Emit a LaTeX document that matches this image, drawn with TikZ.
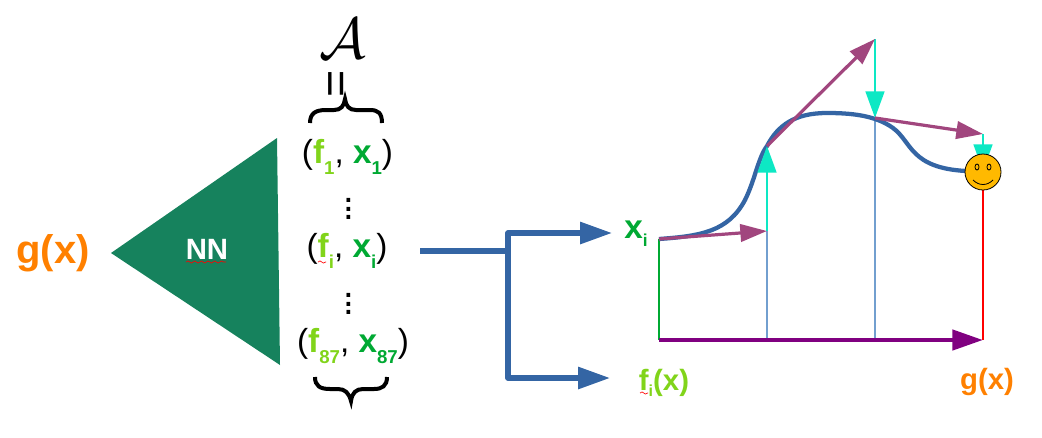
\documentclass[tikz,border=0pt]{standalone}
\usepackage{fontspec}
\setmainfont{Liberation Sans}
\usetikzlibrary{arrows.meta,decorations.pathmorphing}

\definecolor{nnteal}{HTML}{16825D}
\definecolor{gorange}{HTML}{FF8000}
\definecolor{flime}{HTML}{81D41A}
\definecolor{xgreen}{HTML}{00A933}
\definecolor{lineblue}{HTML}{3465A4}
\definecolor{gridblue}{HTML}{729FCF}
\definecolor{stepcyan}{HTML}{0DE8C4}
\definecolor{stepplum}{HTML}{A1467E}
\definecolor{sumpurple}{HTML}{800080}
\definecolor{smileyellow}{HTML}{FFB900}

\newcommand{\lowsub}[1]{\raisebox{-8pt}{\fontsize{14}{14}\selectfont\bfseries #1}}
\newcommand{\pairlabel}[2]{(\textcolor{flime}{\bfseries f\lowsub{#1}}, \textcolor{xgreen}{\bfseries x\lowsub{#2}})}

\tikzset{
	pairtxt/.style={inner sep=0.75pt,font=\fontsize{25}{30}\selectfont},
	dotstxt/.style={inner sep=0pt,scale=1.6,font=\fontsize{18}{20}\selectfont},
	plotline/.style={line width=1.1pt},
	branch/.style={draw=lineblue,line width=3.8pt,-{Triangle[length=24pt,width=16pt]}},
	cyanstep/.style={draw=stepcyan,line width=2.1pt,-{Triangle[length=20pt,width=14pt]}},
	plumstep/.style={draw=stepplum,line width=2.4pt,-{Triangle[length=20pt,width=13pt]}},
	bracestroke/.style={line width=3pt},
	squiggle/.style={draw=red,line width=0.5pt,decorate,decoration={snake,amplitude=0.8pt,segment length=5pt}},
}

\begin{document}
\begin{tikzpicture}[x=0.75pt,y=0.75pt,yscale=-1,xscale=1]
	\useasboundingbox (0,0) rectangle (1042,437);

	%Coordinates
	\coordinate (nntip) at (111,253);
	\coordinate (nntop) at (277,138);
	\coordinate (nnbot) at (280,365);
	\coordinate (stem) at (420,251);
	\coordinate (fork) at (508,251);
	\coordinate (forktop) at (508,233);
	\coordinate (forkbot) at (508,378);
	\coordinate (xarrow) at (612,233);
	\coordinate (farrow) at (610,378);
	\coordinate (start) at (659,239);
	\coordinate (origin) at (659,340);
	\coordinate (stepa) at (767,231);
	\coordinate (basea) at (767,340);
	\coordinate (curvea) at (767,146);
	\coordinate (stepb) at (875,39);
	\coordinate (baseb) at (875,340);
	\coordinate (curveb) at (875,118);
	\coordinate (stepc) at (983,134);
	\coordinate (basec) at (983,340);
	\coordinate (smiletip) at (983,171);
	\coordinate (smileleft) at (966,171);

	%Shape: Triangle
	\fill [nnteal] (nntip) -- (nntop) -- (nnbot) -- cycle;

	%Straight Lines
	\draw [xgreen,plotline] (start) -- (origin);
	\draw [gridblue,plotline] (stepa) -- (basea);
	\draw [gridblue,plotline] (curveb) -- (baseb);
	\draw [red,plotline] (stepc) -- (basec);
	\draw [sumpurple,line width=3.4pt,-{Triangle[length=23pt,width=15pt]}] (origin) -- (basec);

	%Fork
	\draw [lineblue,line width=3.8pt] (stem) -- (fork);
	\draw [branch,line join=round] (fork) -- (forktop) -- (xarrow);
	\draw [branch,line join=round] (fork) -- (forkbot) -- (farrow);

	%Curve
	\draw [lineblue,line width=3.2pt] (start) .. controls (700,236) and (728,232) .. (745,200) .. controls (755,180) and (758,158) .. (curvea) .. controls (778,125) and (795,113) .. (827,113) .. controls (850,113) and (875,115) .. (893,128) .. controls (912,142) and (910,168) .. (smileleft);

	%Steps
	\draw [cyanstep] (stepa) -- (curvea);
	\draw [cyanstep] (stepb) -- (curveb);
	\draw [cyanstep] (stepc) -- (smiletip);
	\draw [plumstep] (start) -- (stepa);
	\draw [plumstep] (curvea) -- (stepb);
	\draw [plumstep] (curveb) -- (stepc);

	%Shape: Smiley
	\node (smiley) at (983,172) [circle,draw=black,fill=smileyellow,line width=0.6pt,minimum size=27pt,inner sep=0pt] {};
	\draw [line width=0.6pt] (977,167) ellipse (2 and 3);
	\draw [line width=0.6pt] (989,167) ellipse (2 and 3);
	\draw [line width=0.6pt] (973,180) .. controls (979,186) and (987,186) .. (993,180);

	%Braces
	\draw [bracestroke] (310,123) .. controls (310,113) and (316,110) .. (326,110) -- (334,110) .. controls (341,110) and (344,106) .. (345,99) .. controls (346,106) and (349,110) .. (356,110) -- (370,110) .. controls (378,110) and (382,113) .. (382,123);
	\draw [bracestroke] (315,377) .. controls (315,386) and (320,389) .. (330,389) -- (338,389) .. controls (345,389) and (349,393) .. (351,401) .. controls (352,393) and (356,389) .. (363,389) -- (374,389) .. controls (382,389) and (387,386) .. (387,377);

	% Text Node
	\node (gleft) at (53,253) [inner sep=0.75pt,gorange,font=\fontsize{30}{34}\selectfont\bfseries] {g(x)};
	\node (nn) at (207,249) [inner sep=0.75pt,white,font=\fontsize{22}{26}\selectfont\bfseries] {NN};
	\node (calA) at (343,39) [inner sep=0pt,scale=1.75,font=\fontsize{24}{28}\selectfont] {$\mathcal{A}$};
	\node (eqsign) at (340,84) [inner sep=0pt,rotate=90,font=\fontsize{35}{38}\selectfont] {=};
	\node (pairone) at (347.5,157) [pairtxt] {\pairlabel{1}{1}};
	\node (dotsone) at (349,203) [dotstxt] {$\vdots$};
	\node (pairi) at (347,251) [pairtxt] {\pairlabel{i}{i}};
	\node (dotstwo) at (349,298) [dotstxt] {$\vdots$};
	\node (pairlast) at (353,346) [pairtxt] {\pairlabel{87}{87}};
	\node (xlabel) at (636,234) [inner sep=0.75pt,xgreen,font=\fontsize{25}{29}\selectfont\bfseries] {x\raisebox{-6pt}{\fontsize{13}{13}\selectfont i}};
	\node (flabel) at (664,383) [inner sep=0.75pt,flime,font=\fontsize{22}{26}\selectfont\bfseries] {f\raisebox{-5pt}{\fontsize{12}{12}\selectfont i}(x)};
	\node (glabel) at (987,382) [inner sep=0.75pt,gorange,font=\fontsize{22}{26}\selectfont\bfseries] {g(x)};

	%Spell marks
	\draw [squiggle] (186,262) -- (226,262);
	\draw [squiggle] (318,262) -- (326,262);
	\draw [squiggle] (640,393) -- (648,393);

\end{tikzpicture}
\end{document}
